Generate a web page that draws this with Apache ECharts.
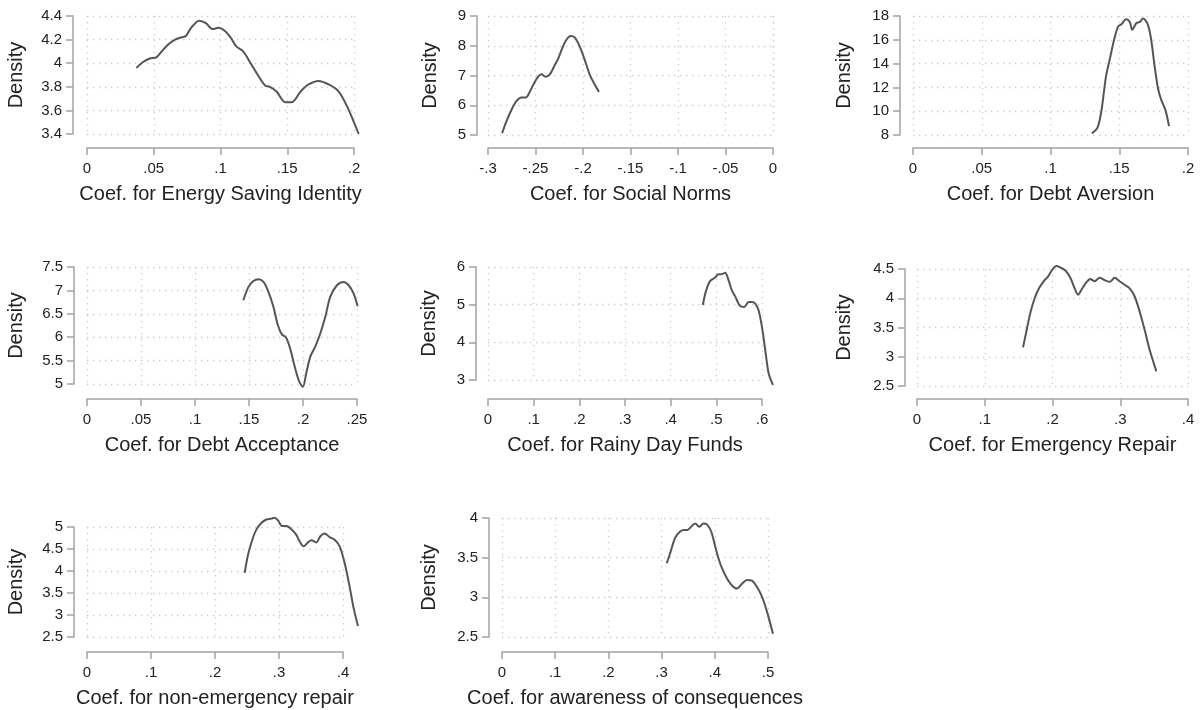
<!DOCTYPE html>
<html>
<head>
<meta charset="utf-8">
<script src="https://cdn.jsdelivr.net/npm/echarts@6/dist/echarts.min.js"></script>
<style>
  html, body { margin: 0; padding: 0; background: #fff; }
  #chart { width: 1204px; height: 710px; }
</style>
</head>
<body>
<div id="chart"></div>
<script>
// kernel density curves
const energyX = [0.037, 0.042, 0.047, 0.052, 0.056, 0.061, 0.066, 0.071, 0.074, 0.078, 0.084, 0.089, 0.094, 0.0985, 0.1035, 0.108, 0.112, 0.117, 0.122, 0.1285, 0.1335, 0.137, 0.142, 0.1485, 0.1535, 0.16, 0.166, 0.1735, 0.181, 0.1885, 0.195, 0.2035];
const energyY = [3.96, 4.01, 4.04, 4.05, 4.10, 4.16, 4.20, 4.22, 4.23, 4.30, 4.36, 4.34, 4.29, 4.30, 4.27, 4.21, 4.14, 4.10, 4.01, 3.89, 3.81, 3.80, 3.76, 3.67, 3.67, 3.76, 3.82, 3.85, 3.82, 3.76, 3.63, 3.40];

const normsX = [-0.2852, -0.2807, -0.2754, -0.2701, -0.2648, -0.2603, -0.256, -0.2525, -0.2472, -0.2437, -0.2395, -0.2349, -0.2297, -0.2261, -0.2219, -0.2173, -0.2128, -0.2085, -0.2033, -0.198, -0.1927, -0.1874, -0.1832];
const normsY = [5.06, 5.45, 5.84, 6.14, 6.26, 6.26, 6.45, 6.68, 6.96, 7.04, 6.96, 7.04, 7.35, 7.57, 7.91, 8.21, 8.33, 8.27, 7.96, 7.51, 7.01, 6.68, 6.45];

const aversionX = [0.1301, 0.1342, 0.1371, 0.1403, 0.1432, 0.1463, 0.1492, 0.1516, 0.1548, 0.1577, 0.1594, 0.1625, 0.1649, 0.1673, 0.1705, 0.1729, 0.1758, 0.1782, 0.1806, 0.1836, 0.1862];
const aversionY = [8.14, 8.61, 10.09, 12.89, 14.42, 16.02, 17.13, 17.30, 17.72, 17.50, 16.85, 17.41, 17.50, 17.78, 17.36, 16.24, 13.73, 11.91, 10.93, 10.09, 8.75];

const acceptX = [0.1448, 0.1494, 0.1541, 0.1587, 0.1634, 0.168, 0.1726, 0.1767, 0.1804, 0.1844, 0.1881, 0.1928, 0.1965, 0.1999, 0.203, 0.2067, 0.2113, 0.216, 0.2206, 0.2252, 0.2314, 0.2376, 0.2423, 0.2469, 0.2506];
const acceptY = [6.79, 7.07, 7.20, 7.24, 7.18, 6.97, 6.65, 6.26, 6.06, 5.99, 5.76, 5.33, 5.05, 4.94, 5.23, 5.58, 5.80, 6.08, 6.43, 6.86, 7.11, 7.18, 7.11, 6.93, 6.66];

const rainyX = [0.4704, 0.4777, 0.4865, 0.4974, 0.5048, 0.512, 0.5194, 0.5267, 0.534, 0.5413, 0.5523, 0.5611, 0.5706, 0.5779, 0.5852, 0.5925, 0.5999, 0.6072, 0.6145, 0.624];
const rainyY = [4.99, 5.38, 5.63, 5.72, 5.81, 5.81, 5.85, 5.65, 5.38, 5.22, 4.96, 4.94, 5.07, 5.07, 5.03, 4.85, 4.41, 3.79, 3.18, 2.87];

const emergX = [0.1565, 0.1614, 0.1673, 0.1737, 0.1801, 0.187, 0.1934, 0.1998, 0.2057, 0.213, 0.2194, 0.2263, 0.2327, 0.2376, 0.244, 0.2499, 0.2558, 0.2622, 0.2696, 0.277, 0.2844, 0.2918, 0.2991, 0.3065, 0.3139, 0.3213, 0.3287, 0.336, 0.3434, 0.3533];
const emergY = [3.16, 3.43, 3.75, 4.00, 4.17, 4.29, 4.37, 4.49, 4.55, 4.52, 4.47, 4.35, 4.17, 4.06, 4.17, 4.27, 4.33, 4.29, 4.35, 4.31, 4.28, 4.35, 4.29, 4.23, 4.17, 4.03, 3.77, 3.46, 3.12, 2.75];

const nonEmergX = [0.2464, 0.2516, 0.2583, 0.2646, 0.2724, 0.2802, 0.288, 0.2932, 0.2984, 0.3052, 0.3115, 0.3193, 0.3271, 0.3323, 0.3385, 0.3453, 0.3505, 0.3583, 0.3646, 0.3714, 0.3792, 0.387, 0.3948, 0.4026, 0.4104, 0.4167, 0.4234];
const nonEmergY = [3.96, 4.37, 4.71, 4.94, 5.09, 5.17, 5.19, 5.21, 5.15, 5.02, 5.02, 4.95, 4.82, 4.67, 4.56, 4.65, 4.70, 4.65, 4.79, 4.85, 4.77, 4.71, 4.56, 4.18, 3.64, 3.15, 2.75];

const awareX = [0.3097, 0.3172, 0.3254, 0.3348, 0.3423, 0.3486, 0.3568, 0.3631, 0.3706, 0.3788, 0.3851, 0.3932, 0.4008, 0.407, 0.4133, 0.4227, 0.4322, 0.4416, 0.451, 0.4604, 0.4698, 0.4793, 0.4887, 0.4981, 0.5094];
const awareY = [3.43, 3.58, 3.75, 3.83, 3.85, 3.85, 3.90, 3.93, 3.89, 3.93, 3.92, 3.83, 3.64, 3.49, 3.37, 3.24, 3.15, 3.11, 3.17, 3.22, 3.21, 3.13, 3.01, 2.82, 2.54];

// tick labels
const energyTicksX = [0, 0.05, 0.1, 0.15, 0.2];
const energyTicksY = [3.4, 3.6, 3.8, 4, 4.2, 4.4];
const normsTicksX = [-0.3, -0.25, -0.2, -0.15, -0.1, -0.05, 0];
const normsTicksY = [5, 6, 7, 8, 9];
const aversionTicksX = [0, 0.05, 0.1, 0.15, 0.2];
const aversionTicksY = [8, 10, 12, 14, 16, 18];
const acceptTicksX = [0, 0.05, 0.1, 0.15, 0.2, 0.25];
const acceptTicksY = [5, 5.5, 6, 6.5, 7, 7.5];
const rainyTicksX = [0, 0.1, 0.2, 0.3, 0.4, 0.5, 0.6];
const rainyTicksY = [3, 4, 5, 6];
const emergTicksX = [0, 0.1, 0.2, 0.3, 0.4];
const emergTicksY = [2.5, 3, 3.5, 4, 4.5];
const nonEmergTicksX = [0, 0.1, 0.2, 0.3, 0.4];
const nonEmergTicksY = [2.5, 3, 3.5, 4, 4.5, 5];
const awareTicksX = [0, 0.1, 0.2, 0.3, 0.4, 0.5];
const awareTicksY = [2.5, 3, 3.5, 4];

const titles = [
  "Coef. for Energy Saving Identity",
  "Coef. for Social Norms",
  "Coef. for Debt Aversion",
  "Coef. for Debt Acceptance",
  "Coef. for Rainy Day Funds",
  "Coef. for Emergency Repair",
  "Coef. for non-emergency repair",
  "Coef. for awareness of consequences",
];

// box = [left, top, width, height] of the labelled axis range
const panels = [
  { x: energyX, y: energyY, tx: energyTicksX, ty: energyTicksY, box: [87, 16, 267, 118], yOff: 14, xOff: 14, gap: 47 },
  { x: normsX, y: normsY, tx: normsTicksX, ty: normsTicksY, box: [488, 16, 285, 119], yOff: 11, xOff: 13, gap: 37 },
  { x: aversionX, y: aversionY, tx: aversionTicksX, ty: aversionTicksY, box: [913, 16, 275, 119], yOff: 13, xOff: 13, gap: 46 },
  { x: acceptX, y: acceptY, tx: acceptTicksX, ty: acceptTicksY, box: [87, 267, 270, 117], yOff: 13, xOff: 15, gap: 48 },
  { x: rainyX, y: rainyY, tx: rainyTicksX, ty: rainyTicksY, box: [488, 267, 274, 113], yOff: 12, xOff: 19, gap: 37 },
  { x: emergX, y: emergY, tx: emergTicksX, ty: emergTicksY, box: [917, 269, 271, 117], yOff: 12, xOff: 13, gap: 51 },
  { x: nonEmergX, y: nonEmergY, tx: nonEmergTicksX, ty: nonEmergTicksY, box: [87, 527, 256, 110], yOff: 13, xOff: 15, gap: 48 },
  { x: awareX, y: awareY, tx: awareTicksX, ty: awareTicksY, box: [502, 518, 266, 119], yOff: 13, xOff: 15, gap: 50 },
];

const FONT = "'Liberation Sans', Arial, sans-serif";
const axisGray = "#a3a3a3";
const gridDots = { color: "#c9c9c9", width: 1.3, type: [1.3, 4.7] };

function stataNum(v) {
  const s = String(+v.toFixed(3));
  return s.replace(/^(-?)0\./, "$1.");
}

const chart = echarts.init(document.getElementById("chart"), null, { renderer: "canvas" });

const grid = [], xAxis = [], yAxis = [], series = [];
const n = panels.length;

// visible axes (grids 0..n-1)
panels.forEach((p, i) => {
  const [l, t, w, h] = p.box;
  grid.push({ left: l, top: t, width: w, height: h, containLabel: false });

  xAxis.push({
    type: "value",
    gridIndex: i,
    min: p.tx[0],
    max: p.tx[p.tx.length - 1],
    interval: p.tx[1] - p.tx[0],
    offset: p.xOff,
    name: titles[i],
    nameLocation: "middle",
    nameGap: 36,
    nameTextStyle: { fontFamily: FONT, fontSize: 20, color: "#222" },
    axisLine: { show: true, onZero: false, lineStyle: { color: axisGray, width: 1.5 } },
    axisTick: { show: true, length: 7, lineStyle: { color: axisGray, width: 1.5 } },
    axisLabel: { fontFamily: FONT, fontSize: 15, color: "#222", margin: 13, formatter: stataNum },
    splitLine: { show: true, lineStyle: gridDots },
  });

  yAxis.push({
    type: "value",
    gridIndex: i,
    min: p.ty[0],
    max: p.ty[p.ty.length - 1],
    interval: p.ty[1] - p.ty[0],
    offset: p.yOff,
    name: "Density",
    nameLocation: "middle",
    nameGap: p.gap,
    nameTextStyle: { fontFamily: FONT, fontSize: 20, color: "#222" },
    axisLine: { show: true, onZero: false, lineStyle: { color: axisGray, width: 1.5 } },
    axisTick: { show: true, length: 7, lineStyle: { color: axisGray, width: 1.5 } },
    axisLabel: { fontFamily: FONT, fontSize: 15, color: "#222", margin: 11, formatter: (v) => String(+v.toFixed(2)) },
    splitLine: { show: true, lineStyle: gridDots },
  });
});

// hidden axes on a plot region widened to hold the whole curve (grids n..2n-1)
panels.forEach((p, i) => {
  const [l, t, w, h] = p.box;
  const x0 = p.tx[0], x1 = p.tx[p.tx.length - 1];
  const y0 = p.ty[0], y1 = p.ty[p.ty.length - 1];
  const xLo = Math.min(x0, ...p.x), xHi = Math.max(x1, ...p.x);
  const yLo = Math.min(y0, ...p.y), yHi = Math.max(y1, ...p.y);
  const sx = w / (x1 - x0), sy = h / (y1 - y0);
  grid.push({
    left: l - (x0 - xLo) * sx,
    top: t - (yHi - y1) * sy,
    width: (xHi - xLo) * sx,
    height: (yHi - yLo) * sy,
    containLabel: false,
  });
  xAxis.push({ type: "value", gridIndex: n + i, min: xLo, max: xHi, show: false, splitLine: { show: false } });
  yAxis.push({ type: "value", gridIndex: n + i, min: yLo, max: yHi, show: false, splitLine: { show: false } });

  series.push({
    type: "line",
    xAxisIndex: n + i,
    yAxisIndex: n + i,
    data: p.x.map((xv, k) => [xv, p.y[k]]),
    smooth: 0.3,
    symbol: "none",
    clip: false,
    lineStyle: { color: "#555555", width: 2 },
    silent: true,
  });
});

chart.setOption({
  animation: false,
  backgroundColor: "#ffffff",
  grid,
  xAxis,
  yAxis,
  series,
});

window.addEventListener("resize", () => chart.resize());
</script>
</body>
</html>
